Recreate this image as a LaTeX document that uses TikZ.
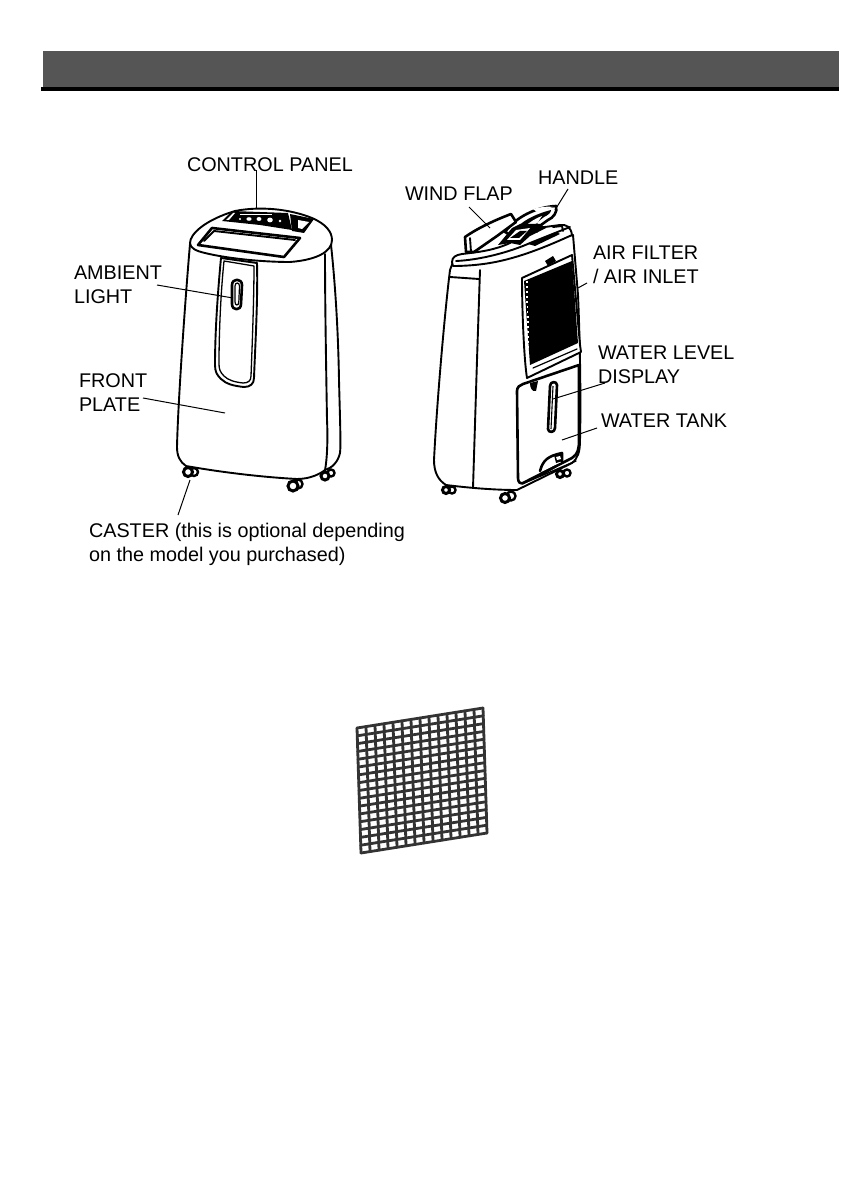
\documentclass[tikz,border=0pt]{standalone}
\usepackage{fontspec}
\setmainfont{Liberation Sans}
\usetikzlibrary{calc}
\definecolor{bar}{HTML}{555555}
\definecolor{mesh}{HTML}{333333}
\tikzset{
  lbl/.style={inner sep=0pt,outer sep=0pt,anchor=base west,font=\fontsize{19.8}{24}\selectfont},
  lbltwo/.style={inner sep=0pt,outer sep=0pt,anchor=north west,align=left,font=\fontsize{19.8}{24}\selectfont},
  leader/.style={draw=black,line width=1pt},
  body/.style={draw=black,line width=1.9pt,line join=round,line cap=round},
  heavy/.style={draw=black,line width=2.6pt,line join=round,line cap=round},
  castor/.style={draw=black,fill=white,line width=3pt}
}
\begin{document}
\begin{tikzpicture}[x=1pt,y=-1pt]
\useasboundingbox (0,0) rectangle (840,1190);
% header
\fill[bar] (43,51) rectangle (839,87);
\fill[black] (41,87) rectangle (839,91);

% ---------- front unit ----------
% casters
\draw[castor,line width=2.4pt] (194,472) circle (4);
\draw[castor] (188,472) circle (4.5);
\draw[castor,line width=2.4pt] (298,484) circle (4.5);
\draw[castor] (293,486) circle (5);
\draw[castor,line width=2.4pt] (331,473) circle (3.5);
\draw[castor] (325,476) circle (4);
% outer right side
\draw[body,fill=white] (330,236) .. controls (334,270) and (338,320) .. (339,380) .. controls (340,420) and (341,445) .. (340,453) .. controls (338,462) and (332,468) .. (325,470);
% front outline
\draw[body,fill=white] (190,244) .. controls (186,290) and (178,400) .. (177,447) .. controls (177,456) and (180,462) .. (186,466) .. controls (220,472) and (260,477) .. (297,479) .. controls (310,479) and (320,474) .. (325,470) .. controls (327,460) and (328,440) .. (327,420) .. controls (326,360) and (325,300) .. (325,254);
% top cap
\draw[body,fill=white] (190,243) .. controls (190,234) and (205,220) .. (235,211) .. controls (260,206) and (290,209) .. (312,218) .. controls (326,224) and (332,232) .. (332,240) .. controls (332,252) and (316,260) .. (290,262) .. controls (260,262) and (225,258) .. (205,253) .. controls (196,251) and (190,248) .. (190,243) -- cycle;
% top window
\draw[heavy,fill=white] (198,245) -- (212,228) -- (300,238) -- (284,257) -- cycle;
\draw[body] (204,241) -- (214,231) -- (295,240);
% control panel
\fill[black] (222,221) -- (232,211) -- (288,213) -- (292,230) -- (260,225) -- cycle;
\fill[black] (290,214) -- (314,219) -- (304,233) -- (292,231) -- cycle;
\fill[white] (298,220) -- (309,222) -- (302,229) -- (298,228) -- cycle;
\fill[white] (226,220) -- (233,213) -- (235,213) -- (229,220) -- cycle;
\fill[white] (240,219) circle (1.2) (249,219) ellipse (2.6 and 1.8) (259,219) ellipse (2.4 and 2) (270,220) ellipse (2.8 and 2.4) (280,221) ellipse (1.4 and 1.4);
\fill[white] (240,214.5) rectangle (272,215.3);
% centre panel
\draw[body,fill=white] (221,258) -- (257,263) .. controls (258,300) and (255,350) .. (254,378) .. controls (254,384) and (250,387) .. (244,387) .. controls (234,386) and (226,384) .. (221,379) .. controls (217,375) and (215,372) .. (215,365) .. controls (215,330) and (218,290) .. (221,258) -- cycle;
\draw[body,line width=1.3pt] (224,261) -- (254,266) .. controls (254,300) and (252,350) .. (251,376) .. controls (251,381) and (248,383) .. (243,383) .. controls (234,382) and (228,380) .. (224,376) .. controls (220,372) and (219,369) .. (219,364) .. controls (219,330) and (221,290) .. (224,261) -- cycle;
% ambient light slot
\draw[heavy,fill=white] (232,285) .. controls (232,278) and (242,278) .. (242,285) -- (241,304) .. controls (241,311) and (232,311) .. (232,304) -- cycle;
\draw[line width=1.2pt] (235,286) .. controls (235,282) and (239.5,282) .. (239.5,286) -- (238.8,302) .. controls (238.8,306) and (235,306) .. (235,302) -- cycle;

% ---------- rear unit ----------
% casters
\draw[castor,line width=2.4pt] (452,490) circle (3.5);
\draw[castor] (446,490) circle (3.5);
\draw[castor,line width=2.4pt] (511,496) circle (4.5);
\draw[castor] (505,498) circle (4.5);
\draw[castor,line width=2.4pt] (567,473) circle (3.5);
\draw[castor] (560,474) circle (3.5);
% shell
\draw[body,fill=white] (450,270) .. controls (445,310) and (437,400) .. (434,460) .. controls (434,472) and (438,480) .. (446,485) .. controls (470,488) and (495,490) .. (517,490) -- (572,463) .. controls (578,458) and (580,452) .. (580,440) .. controls (581,400) and (580,340) .. (578,295) -- (573,235) -- (453,262) -- cycle;
% seam
\draw[body] (480,270) -- (477,360) -- (473,488);
% band
\draw[body] (450,277) -- (479,279);
% handle behind
\draw[heavy,fill=white] (505,232) .. controls (515,218) and (535,207) .. (556,206) .. controls (558,212) and (553,218) .. (548,220) -- (520,240) -- cycle;
\fill[black] (515,230) .. controls (520,222) and (535,214) .. (551,210) .. controls (551,213) and (548,215) .. (544,217) -- (535,224) -- (520,236) -- cycle;
\fill[white] (524,227) .. controls (530,222) and (536,218) .. (542,216) -- (538,222) -- (528,229) -- cycle;
\fill[white] (533,209) .. controls (540,207) and (548,206) .. (553,207) -- (537,212) -- cycle;
% top plate
\draw[body,fill=white] (452,262) .. controls (452,257) and (456,255) .. (462,254) .. controls (480,252) and (495,250) .. (510,243) -- (522,230) -- (560,225) .. controls (566,224) and (571,227) .. (572,235) .. controls (550,245) and (520,258) .. (490,263) .. controls (478,265) and (465,266) .. (453,266) -- cycle;
\draw[body] (456,261) .. controls (480,260) and (510,252) .. (530,243) -- (570,227);
% dark mechanism in the top
\fill[black] (498,245) -- (512,228) -- (520,224) -- (540,224) -- (546,228) -- (530,236) -- (520,245) -- (510,243) -- cycle;
\fill[white] (507,240) -- (516,230) -- (530,228) -- (520,240) -- cycle;
\fill[black] (510,238) -- (520,231) -- (527,231) -- (519,238) -- cycle;
\fill[black] (528,244) -- (556,232) -- (560,234) -- (535,246) -- cycle;
\draw[body] (537,232) -- (537,224);
\draw[body] (553,227) -- (562,226) -- (563,231);
% wind flap
\draw[heavy,fill=white] (465,237) .. controls (475,230) and (490,222) .. (511,214) -- (516,222) -- (497,236) -- (474,252) -- (466,252) -- cycle;
\draw[body] (470,238) -- (471,252);
% filter latch
\fill[black] (545,261) -- (553,256) -- (556,261) -- (548,266) -- cycle;
% filter
\draw[body,fill=white] (522,278) -- (572,255) -- (580,345) -- (581,352) -- (527,378) .. controls (524,360) and (522,310) .. (522,278) -- cycle;
\fill[black] (524,281) -- (572,261) -- (578,343) -- (530,365) -- cycle;
\foreach \yy in {283,288,...,363}{
  \fill[white] (526+\yy/60-4.6,\yy) rectangle +(1.8,-1.6);
}
\draw[body,line width=1.2pt] (533,368) -- (577,349);
% water tank
\draw[heavy,fill=white] (517,391) .. controls (517,387) and (520,385) .. (523,384) -- (579,365) -- (579,440) .. controls (579,449) and (578,454) .. (572,458) -- (523,483) .. controls (520,484) and (518,482) .. (518,478) -- cycle;
\fill[black] (530,383) -- (538,381) -- (536,391) .. controls (532,392) and (530,388) .. (530,383) -- cycle;
\draw[body,line width=1.4pt] (522,484) -- (576,461);
% tank slot
\draw[heavy,fill=white] (550,386) .. controls (550,381) and (557,381) .. (557,385) -- (555,428) .. controls (555,433) and (548,433) .. (548,429) -- cycle;
\draw[line width=1.1pt] (553,386) -- (551,429);
% tank handle
\draw[heavy,fill=white] (540,471) .. controls (543,460) and (548,456) .. (562,453) -- (562,462);
\fill[black] (540,473) -- (562,462) -- (570,459) -- (540,477) -- cycle;
\fill[black] (554,455) -- (561,453) -- (563,461) -- (556,463) -- cycle;
\fill[white] (556,457) -- (560,456) -- (561,459) -- (557,460) -- cycle;

% ---------- labels ----------
\node[lbl] (cp) at (187,172) {CONTROL PANEL};
\node[lbltwo] (al) at (74,266) {AMBIENT\\LIGHT};
\node[lbltwo] (fp) at (79,374) {FRONT\\PLATE};
\node[lbltwo] (cs) at (89,523) {CASTER (this is optional depending\\on the model you purchased)};
\node[lbl] (wf) at (405,201) {WIND FLAP};
\node[lbl] (hd) at (538,185) {HANDLE};
\node[lbltwo] (af) at (593,246) {AIR FILTER\\/ AIR INLET};
\node[lbltwo] (wl) at (598,346) {WATER LEVEL\\ DISPLAY};
\node[lbl] (wt) at (601,427) {WATER TANK};

% ---------- leaders ----------
\coordinate (cpa) at (256,170); \coordinate (cpb) at (256,208);
\coordinate (ala) at (157,285); \coordinate (alb) at (233,298);
\coordinate (fpa) at (143,398); \coordinate (fpb) at (225,413);
\coordinate (csa) at (178,515); \coordinate (csb) at (190,480);
\coordinate (wfa) at (469,207); \coordinate (wfb) at (490,228);
\coordinate (hda) at (568,189); \coordinate (hdb) at (555,210);
\coordinate (afa) at (587,283); \coordinate (afb) at (578,288);
\coordinate (wla) at (605,383); \coordinate (wlb) at (553,399);
\coordinate (wta) at (597,428); \coordinate (wtb) at (562,440);
\draw[leader] (cpa) -- (cpb);
\draw[leader] (ala) -- (alb);
\draw[leader] (fpa) -- (fpb);
\draw[leader] (csa) -- (csb);
\draw[leader] (wfa) -- (wfb);
\draw[leader] (hda) -- (hdb);
\draw[leader] (afa) -- (afb);
\draw[leader] (wla) -- (wlb);
\draw[leader] (wta) -- (wtb);

% ---------- filter mesh ----------
\coordinate (tl) at (357,728);
\coordinate (tr) at (483,708);
\coordinate (br) at (487,833);
\coordinate (bl) at (361,853);
\foreach \i in {0,...,14}{
  \pgfmathsetmacro{\t}{\i/14}
  \draw[mesh,line width=2.8pt,line cap=round] ($(tl)!\t!(tr)$) -- ($(bl)!\t!(br)$);
}
\foreach \i in {0,...,16}{
  \pgfmathsetmacro{\t}{\i/16}
  \draw[mesh,line width=2.8pt,line cap=round] ($(tl)!\t!(bl)$) -- ($(tr)!\t!(br)$);
}
\end{tikzpicture}
\end{document}
